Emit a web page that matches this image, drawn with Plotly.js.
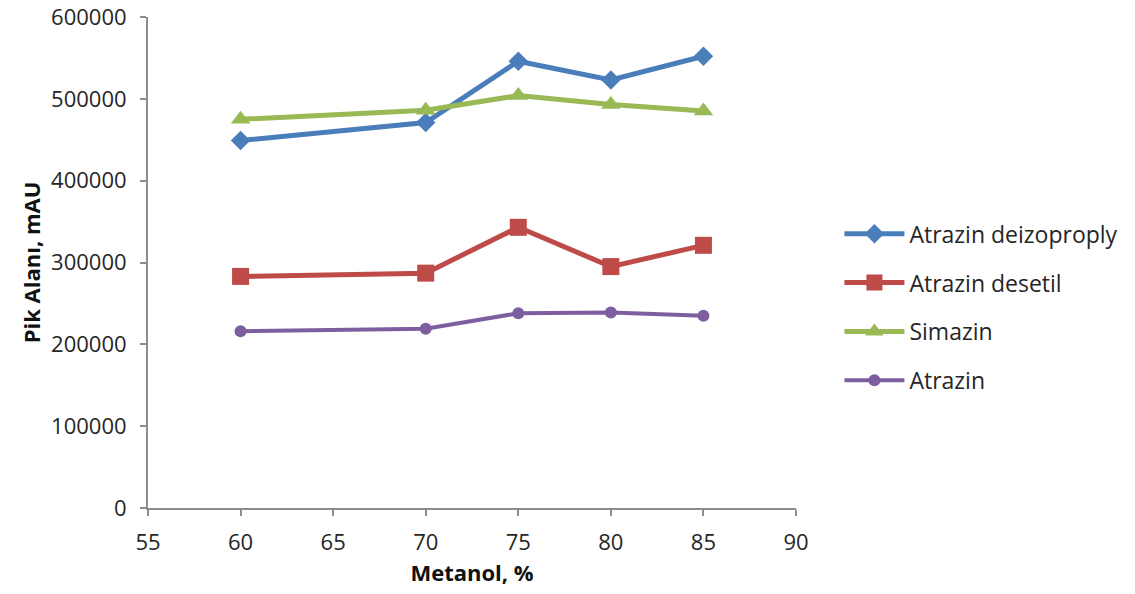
<!DOCTYPE html>
<html>
<head>
<meta charset="utf-8">
<script src="https://cdn.plot.ly/plotly-3.0.1.min.js"></script>
<style>html,body{margin:0;padding:0;background:#fff;}#chart{width:1135px;height:594px;}</style>
</head>
<body>
<div id="chart"></div>
<script>
const metanol = [60, 70, 75, 80, 85];
const seriesNames = ["Atrazin deizoproply", "Atrazin desetil", "Simazin", "Atrazin"];
const deizoproply = [449000, 471000, 546000, 523000, 552000];
const desetil = [283000, 287000, 343000, 295000, 321000];
const simazin = [475000, 486000, 504000, 493000, 485000];
const atrazin = [216000, 219000, 238000, 239000, 235000];
const xTicks = [55, 60, 65, 70, 75, 80, 85, 90];
const yTicks = [0, 100000, 200000, 300000, 400000, 500000, 600000];

const font = "'Open Sans', 'Noto Sans', sans-serif";
function tr(name, y, color, symbol, size, width, group) {
  return {
    x: metanol, y: y, name: name, type: 'scatter', mode: 'lines+markers',
    line: {color: color, width: width},
    marker: {symbol: symbol, size: size, color: color},
    legendgroup: group
  };
}
const data = [
  tr(seriesNames[0], deizoproply, '#4a7ebb', 'diamond', 15, 5, 'a'),
  tr(seriesNames[1], desetil, '#be4b48', 'square', 17, 5, 'b'),
  tr(seriesNames[2], simazin, '#98b954', 'triangle-up', 17, 5, 'c'),
  tr(seriesNames[3], atrazin, '#7d5fa0', 'circle', 12, 4, 'd')
];
const layout = {
  width: 1135, height: 594,
  margin: {l: 148, r: 339, t: 17, b: 86},
  paper_bgcolor: '#fff', plot_bgcolor: '#fff',
  font: {family: font, color: '#262626', size: 22},
  xaxis: {
    range: [55, 90], tickvals: xTicks, ticktext: xTicks.map(String),
    showgrid: false, zeroline: false, showline: true, linecolor: '#8c8c8c', linewidth: 2,
    ticks: 'outside', ticklen: 6, tickcolor: '#8c8c8c', tickwidth: 2,
    ticklabelstandoff: 8, ticklabeloverflow: 'allow',
    tickfont: {family: font, size: 22, color: '#262626'},
    title: {text: 'Metanol, %', font: {family: font, size: 22, color: '#111', weight: 'bold'}, standoff: 10}
  },
  yaxis: {
    range: [0, 600000], tickvals: yTicks, ticktext: yTicks.map(String),
    showgrid: false, zeroline: false, showline: true, linecolor: '#8c8c8c', linewidth: 2,
    ticks: 'outside', ticklen: 6, tickcolor: '#8c8c8c', tickwidth: 2,
    ticklabelstandoff: 9, ticklabeloverflow: 'allow',
    tickfont: {family: font, size: 22, color: '#262626'},
    title: {text: 'Pik Alanı, mAU', font: {family: font, size: 22, color: '#111', weight: 'bold'}, standoff: 4}
  },
  showlegend: true,
  legend: {
    x: 1.067, xanchor: 'left', y: 0.409, yanchor: 'middle',
    font: {family: font, size: 23, color: '#262626'},
    traceorder: 'grouped', tracegroupgap: 16,
    bgcolor: 'rgba(0,0,0,0)', itemwidth: 60
  }
};
Plotly.newPlot('chart', data, layout, {displayModeBar: false, staticPlot: true});
</script>
</body>
</html>
